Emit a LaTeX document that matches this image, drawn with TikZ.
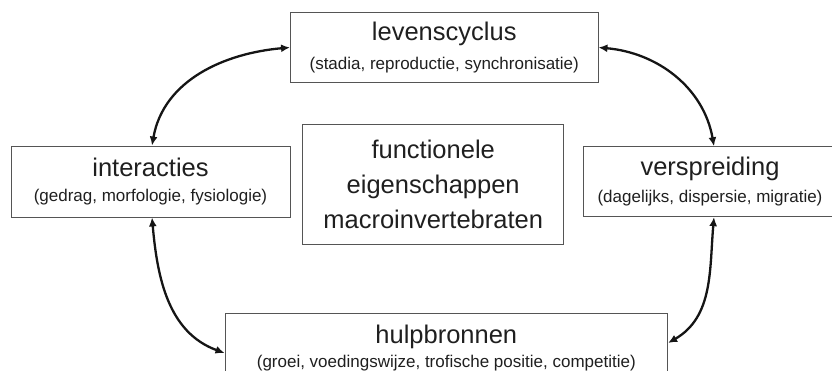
\documentclass[tikz,border=0pt]{standalone}
\usepackage{fontspec}
\setmainfont{Liberation Sans}
\usetikzlibrary{arrows.meta}

\definecolor{rand}{HTML}{555555}
\definecolor{pijlkleur}{HTML}{151515}
\definecolor{tekst}{HTML}{1F1F1F}

\newcommand{\kop}{\fontsize{25.5}{25.5}\selectfont}

\begin{document}
\begin{tikzpicture}[x=1pt,y=1pt,
    blok/.style={draw=rand, line width=0.9pt, align=center, inner sep=0pt, text=tekst,
      font=\fontsize{17}{25}\selectfont},
    pijl/.style={<->, >={Latex[length=9pt,width=8pt]}, line width=2.3pt, draw=pijlkleur}]
  \useasboundingbox (0,0) rectangle (832,371);

  % de vier blokken rond het midden
  \node[blok, minimum width=307.5pt, minimum height=70.4pt] (lev) at (444.25,323.5)
    {{\kop levenscyclus}\\[4.5pt](stadia, reproductie, synchronisatie)};
  \node[blok, minimum width=279pt, minimum height=71pt] (inter) at (150.5,189.5)
    {{\kop interacties}\\(gedrag, morfologie, fysiologie)};
  \node[blok, minimum width=254pt, minimum height=70pt] (versp) at (710,189.3)
    {{\kop verspreiding}\\[1.5pt](dagelijks, dispersie, migratie)};
  \node[blok, minimum width=442.7pt, minimum height=70pt] (hulp) at (446.3,23)
    {{\kop hulpbronnen}\\[-1pt](groei, voedingswijze, trofische positie, competitie)};
  \node[blok, minimum width=261pt, minimum height=120pt, font=\fontsize{25.5}{35}\selectfont]
    (midden) at (433.2,187) {functionele\\eigenschappen\\macroinvertebraten};

  % verbindingen
  \draw[pijl] (lev.west) to[out=185,in=80] ([xshift=1.5pt]inter.north);
  \draw[pijl] (lev.east) to[out=-5,in=100] ([xshift=4pt]versp.north);
  \draw[pijl] ([xshift=1.5pt]inter.south) to[out=-85,in=160] ([yshift=-5pt]hulp.west);
  \draw[pijl] ([xshift=4pt]versp.south) to[out=-95,in=30] ([yshift=5pt]hulp.east);
\end{tikzpicture}
\end{document}
